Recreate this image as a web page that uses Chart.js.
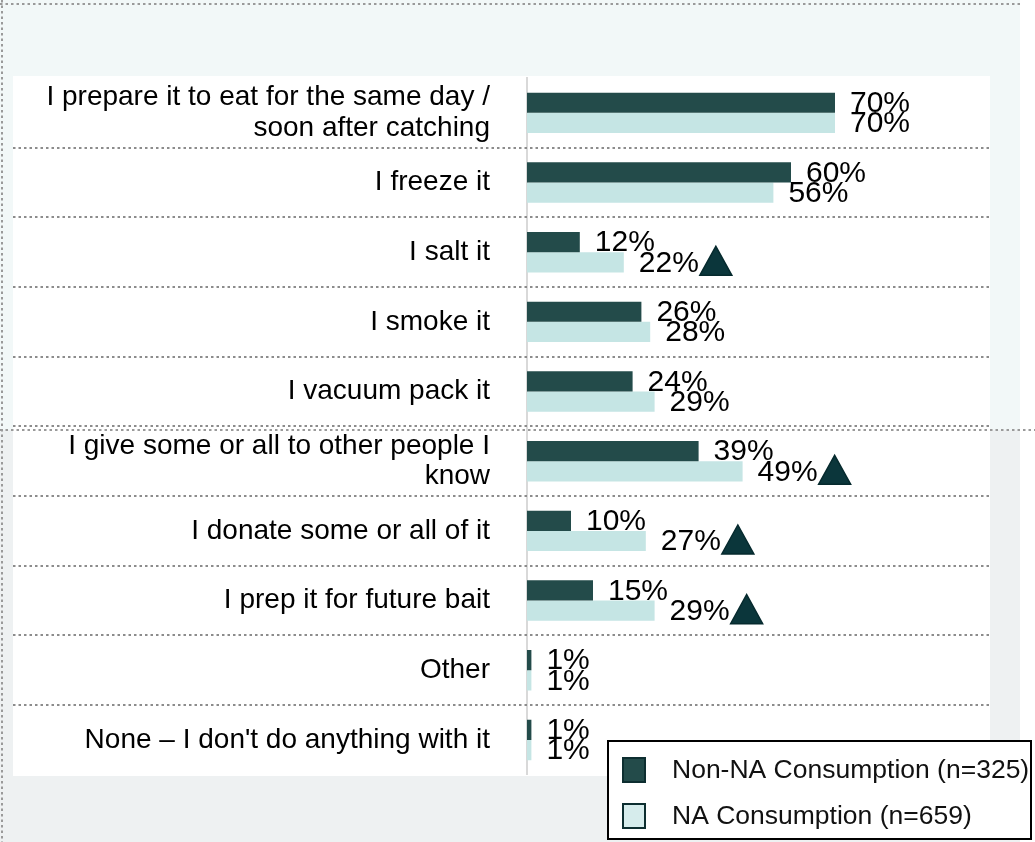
<!DOCTYPE html>
<html>
<head>
<meta charset="utf-8">
<script src="https://cdn.jsdelivr.net/npm/chart.js@4.4.1/dist/chart.umd.min.js"></script>
<style>
  html, body { margin: 0; padding: 0; background: #ffffff; }
  #wrap { position: relative; width: 1035px; height: 842px; }
</style>
</head>
<body>
<div id="wrap"><canvas id="chart" width="1035" height="842"></canvas></div>
<script>
// What anglers do with the fish they keep
const categories = [
  ['I prepare it to eat for the same day /', 'soon after catching'],
  'I freeze it',
  'I salt it',
  'I smoke it',
  'I vacuum pack it',
  ['I give some or all to other people I', 'know'],
  'I donate some or all of it',
  'I prep it for future bait',
  'Other',
  'None \u2013 I don\'t do anything with it'
];
const seriesNames = ['Non-NA Consumption (n=325)', 'NA Consumption (n=659)'];
const nonNaValues = [70, 60, 12, 26, 24, 39, 10, 15, 1, 1];
const naValues = [70, 56, 22, 28, 29, 49, 27, 29, 1, 1];
// NA value significantly higher than the Non-NA value
const naSignificant = [false, false, true, false, false, true, true, true, false, false];

const FONT = '"Liberation Sans", Arial, Helvetica, sans-serif';
const DARK = '#234b4a';
const LIGHT = '#c5e5e4';

function dottedLine(ctx, x1, y1, x2, y2, color) {
  ctx.save();
  ctx.strokeStyle = color;
  ctx.lineWidth = 2;
  ctx.setLineDash([2.5, 3]);
  ctx.beginPath();
  ctx.moveTo(x1, y1);
  ctx.lineTo(x2, y2);
  ctx.stroke();
  ctx.restore();
}

// Slide panels behind the chart, plus the dotted row separators
const backdrop = {
  id: 'backdrop',
  beforeDraw(chart) {
    const ctx = chart.ctx;
    ctx.save();
    ctx.fillStyle = '#ffffff';
    ctx.fillRect(0, 0, chart.width, chart.height);
    ctx.fillStyle = '#f2f8f8';
    ctx.fillRect(0, 0, 1020, 430);
    ctx.fillStyle = '#eef1f2';
    ctx.fillRect(0, 430, 1020, chart.height - 430);
    ctx.fillStyle = '#ffffff';
    ctx.fillRect(13, 76, 977, 700);
    ctx.restore();
    dottedLine(ctx, 0, 4, 1020, 4, '#9a9a9a');
    dottedLine(ctx, 2, 0, 2, chart.height, '#9a9a9a');
    dottedLine(ctx, 0, 430, chart.width, 430, '#9a9a9a');
  },
  beforeDatasetsDraw(chart) {
    const ctx = chart.ctx;
    const ys = chart.scales.y;
    for (let i = 1; i < categories.length; i++) {
      const y = Math.round((ys.getPixelForValue(i - 1) + ys.getPixelForValue(i)) / 2);
      dottedLine(ctx, 13, y, 990, y, '#8c8c8c');
    }
  }
};

// Percent labels at the bar ends, with a triangle marking significant differences
const valueLabels = {
  id: 'valueLabels',
  afterDatasetsDraw(chart) {
    const ctx = chart.ctx;
    ctx.save();
    ctx.font = '30px ' + FONT;
    ctx.textBaseline = 'middle';
    ctx.textAlign = 'left';
    chart.data.datasets.forEach((ds, di) => {
      const meta = chart.getDatasetMeta(di);
      meta.data.forEach((bar, i) => {
        const txt = ds.data[i] + '%';
        const x = bar.x + 15;
        const y = bar.y + 1;
        ctx.fillStyle = '#000000';
        ctx.fillText(txt, x, y);
        if (di === 1 && naSignificant[i]) {
          const x0 = x + ctx.measureText(txt).width + 1;
          const cy = bar.y - 1;
          ctx.beginPath();
          ctx.moveTo(x0, cy + 14);
          ctx.lineTo(x0 + 32, cy + 14);
          ctx.lineTo(x0 + 16, cy - 15);
          ctx.closePath();
          ctx.fillStyle = '#0b363b';
          ctx.fill();
          ctx.lineWidth = 1.5;
          ctx.strokeStyle = '#062a2e';
          ctx.stroke();
        }
      });
    });
    ctx.restore();
  }
};

// Boxed legend in the lower right corner
const boxLegend = {
  id: 'boxLegend',
  afterDraw(chart) {
    const ctx = chart.ctx;
    ctx.save();
    ctx.fillStyle = '#ffffff';
    ctx.fillRect(608, 741, 423, 98);
    ctx.lineWidth = 2;
    ctx.strokeStyle = '#000000';
    ctx.strokeRect(608, 741, 423, 98);
    ctx.font = '26.5px ' + FONT;
    ctx.textBaseline = 'middle';
    chart.data.datasets.forEach((ds, di) => {
      const cy = 770 + di * 46;
      ctx.fillStyle = di === 0 ? ds.backgroundColor : '#d6ecec';
      ctx.fillRect(623, cy - 12, 22, 24);
      ctx.lineWidth = 2;
      ctx.strokeStyle = '#0d2e30';
      ctx.strokeRect(623, cy - 12, 22, 24);
      ctx.fillStyle = '#111111';
      ctx.fillText(ds.label, 672, cy + 1);
    });
    ctx.restore();
  }
};

new Chart(document.getElementById('chart'), {
  type: 'bar',
  data: {
    labels: categories,
    datasets: [
      { label: seriesNames[0], data: nonNaValues, backgroundColor: DARK },
      { label: seriesNames[1], data: naValues, backgroundColor: LIGHT }
    ]
  },
  options: {
    indexAxis: 'y',
    responsive: false,
    animation: false,
    devicePixelRatio: 1,
    categoryPercentage: 0.58,
    barPercentage: 1.0,
    layout: { padding: { left: 0, right: 68, top: 78, bottom: 64 } },
    scales: {
      x: { display: false, min: 0, max: 100 },
      y: {
        grid: { display: false, drawTicks: false },
        border: { display: true, color: '#d9d9d9', width: 2 },
        ticks: {
          autoSkip: false,
          color: '#000000',
          padding: 37,
          font: { family: FONT, size: 28, lineHeight: 1.08 }
        },
        afterFit(scale) { scale.width = 527; }
      }
    },
    plugins: {
      legend: { display: false },
      tooltip: { enabled: false }
    }
  },
  plugins: [backdrop, valueLabels, boxLegend]
});
</script>
</body>
</html>
